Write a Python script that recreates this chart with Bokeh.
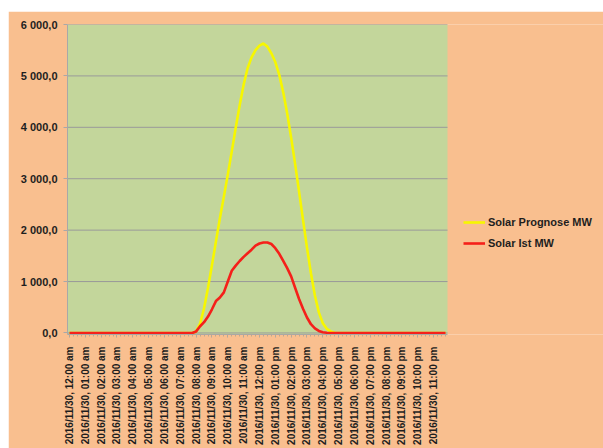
import math
from bokeh.plotting import figure
from bokeh.models import (Range1d, FixedTicker, CustomJSTickFormatter, Legend,
                          LegendItem, ColumnDataSource, BoxAnnotation)
from bokeh.embed import file_html
from bokeh.resources import INLINE

# ---------------- data (quarter-hour values, 2016/11/30) ----------------
slot = list(range(96))

solar_prognose_mw = [
    0, 0, 0, 0, 0, 0, 0, 0, 0, 0, 0, 0, 0, 0, 0, 0,
    0, 0, 0, 0, 0, 0, 0, 0, 0, 0, 0, 0, 0, 0, 0, 0,
    30, 180, 480, 880, 1320, 1780, 2230, 2650, 3080, 3530, 3990, 4430, 4830, 5150, 5360, 5500,
    5590, 5630, 5570, 5440, 5270, 5020, 4680, 4270, 3800, 3290, 2750, 2200, 1660, 1160, 730, 400,
    190, 80, 30, 5, 0, 0, 0, 0, 0, 0, 0, 0, 0, 0, 0, 0,
    0, 0, 0, 0, 0, 0, 0, 0, 0, 0, 0, 0, 0, 0, 0, 0,
]

solar_ist_mw = [
    0, 0, 0, 0, 0, 0, 0, 0, 0, 0, 0, 0, 0, 0, 0, 0,
    0, 0, 0, 0, 0, 0, 0, 0, 0, 0, 0, 0, 0, 0, 0, 0,
    30, 130, 210, 320, 460, 620, 690, 790, 1000, 1210, 1310, 1400, 1480, 1550, 1620, 1700,
    1740, 1760, 1760, 1730, 1650, 1540, 1400, 1260, 1100, 880, 660, 470, 300, 170, 90, 40,
    15, 5, 0, 0, 0, 0, 0, 0, 0, 0, 0, 0, 0, 0, 0, 0,
    0, 0, 0, 0, 0, 0, 0, 0, 0, 0, 0, 0, 0, 0, 0, 0,
]

x_tick_labels = [
    "2016/11/30, 12:00 am", "2016/11/30, 01:00 am", "2016/11/30, 02:00 am",
    "2016/11/30, 03:00 am", "2016/11/30, 04:00 am", "2016/11/30, 05:00 am",
    "2016/11/30, 06:00 am", "2016/11/30, 07:00 am", "2016/11/30, 08:00 am",
    "2016/11/30, 09:00 am", "2016/11/30, 10:00 am", "2016/11/30, 11:00 am",
    "2016/11/30, 12:00 pm", "2016/11/30, 01:00 pm", "2016/11/30, 02:00 pm",
    "2016/11/30, 03:00 pm", "2016/11/30, 04:00 pm", "2016/11/30, 05:00 pm",
    "2016/11/30, 06:00 pm", "2016/11/30, 07:00 pm", "2016/11/30, 08:00 pm",
    "2016/11/30, 09:00 pm", "2016/11/30, 10:00 pm", "2016/11/30, 11:00 pm",
]
x_tick_slots = [0, 4, 8, 12, 16, 20, 24, 28, 32, 36, 40, 44,
                48, 52, 56, 60, 64, 68, 72, 76, 80, 84, 88, 92]

y_ticks = [0, 1000, 2000, 3000, 4000, 5000, 6000]

series_names = ["Solar Prognose MW", "Solar Ist MW"]

# ---------------- styling ----------------
ORANGE = "#F9BF8F"
GREEN = "#C3D69B"
YELLOW = "#F7F700"
RED = "#F5201A"
TEXT = "#1E1E1E"
GRID = "#9A9A9A"
FONT = "Liberation Sans"

DATA_PX = 380          # width of the green plot area
FRAME_PX = 536         # frame also holds the legend area on the right
lo = slot[0] - 0.5
hi = slot[-1] + 0.5
x_end = lo + (hi - lo) * FRAME_PX / DATA_PX

src = ColumnDataSource(dict(x=slot, prog=solar_prognose_mw, ist=solar_ist_mw))

p = figure(frame_width=FRAME_PX, frame_height=310, output_backend="svg",
           toolbar_location=None,
           x_range=Range1d(lo, x_end), y_range=Range1d(-30, 6000),
           min_border_left=59, min_border_top=13, min_border_right=0,
           min_border_bottom=114)
p.styles = {"margin-left": "8px", "margin-top": "11px"}

p.background_fill_color = ORANGE
p.border_fill_color = ORANGE
p.outline_line_color = None

p.add_layout(BoxAnnotation(left=lo, right=hi, fill_color=GREEN, fill_alpha=1,
                           line_color=None, level="underlay"))

# horizontal grid lines limited to the green area
p.segment(x0=[lo] * len(y_ticks), x1=[hi] * len(y_ticks), y0=y_ticks, y1=y_ticks,
          line_color=GRID, line_width=1)

r1 = p.line("x", "prog", source=src, line_color=YELLOW, line_width=2.6)
r2 = p.line("x", "ist", source=src, line_color=RED, line_width=2.6)

# y axis
p.yaxis.ticker = FixedTicker(ticks=y_ticks)
p.yaxis.formatter = CustomJSTickFormatter(code="""
    const s = tick.toFixed(1).split('.');
    return s[0].replace(/\\B(?=(\\d{3})+(?!\\d))/g, ' ') + ',' + s[1];
""")
p.yaxis.major_tick_out = 4
p.yaxis.major_tick_in = 0
p.yaxis.minor_tick_out = 0
p.yaxis.minor_tick_in = 0
p.yaxis.axis_line_color = "#A8A8A8"
p.yaxis.major_tick_line_color = "#A8A8A8"
p.yaxis.major_label_standoff = 6
p.yaxis.major_label_text_font = FONT
p.yaxis.major_label_text_font_size = "11px"
p.yaxis.major_label_text_font_style = "bold"
p.yaxis.major_label_text_color = TEXT

# x axis
p.xaxis.bounds = (lo, hi)
p.xaxis.ticker = FixedTicker(ticks=x_tick_slots, minor_ticks=slot)
p.xaxis.major_label_overrides = {s: l for s, l in zip(x_tick_slots, x_tick_labels)}
p.xaxis.major_label_orientation = math.pi / 2
p.xaxis.major_tick_out = 3
p.xaxis.major_tick_in = 0
p.xaxis.minor_tick_out = 2
p.xaxis.minor_tick_in = 0
p.xaxis.axis_line_color = "#A8A8A8"
p.xaxis.major_tick_line_color = "#A8A8A8"
p.xaxis.minor_tick_line_color = "#B8A890"
p.xaxis.major_label_standoff = 9
p.xaxis.major_label_text_font = FONT
p.xaxis.major_label_text_font_size = "10px"
p.xaxis.major_label_text_font_style = "bold"
p.xaxis.major_label_text_color = TEXT

p.xgrid.grid_line_color = None
p.ygrid.grid_line_color = None

legend = Legend(
    items=[LegendItem(label=series_names[0], renderers=[r1]),
           LegendItem(label=series_names[1], renderers=[r2])],
    location=(396, 81), background_fill_alpha=0, border_line_color=None,
    padding=0, margin=0, spacing=1, glyph_width=22, glyph_height=20,
    label_standoff=3, label_text_font=FONT, label_text_font_size="11px",
    label_text_font_style="bold", label_text_color=TEXT,
)
p.add_layout(legend, "center")

open("out.html", "w").write(file_html(p, INLINE))
